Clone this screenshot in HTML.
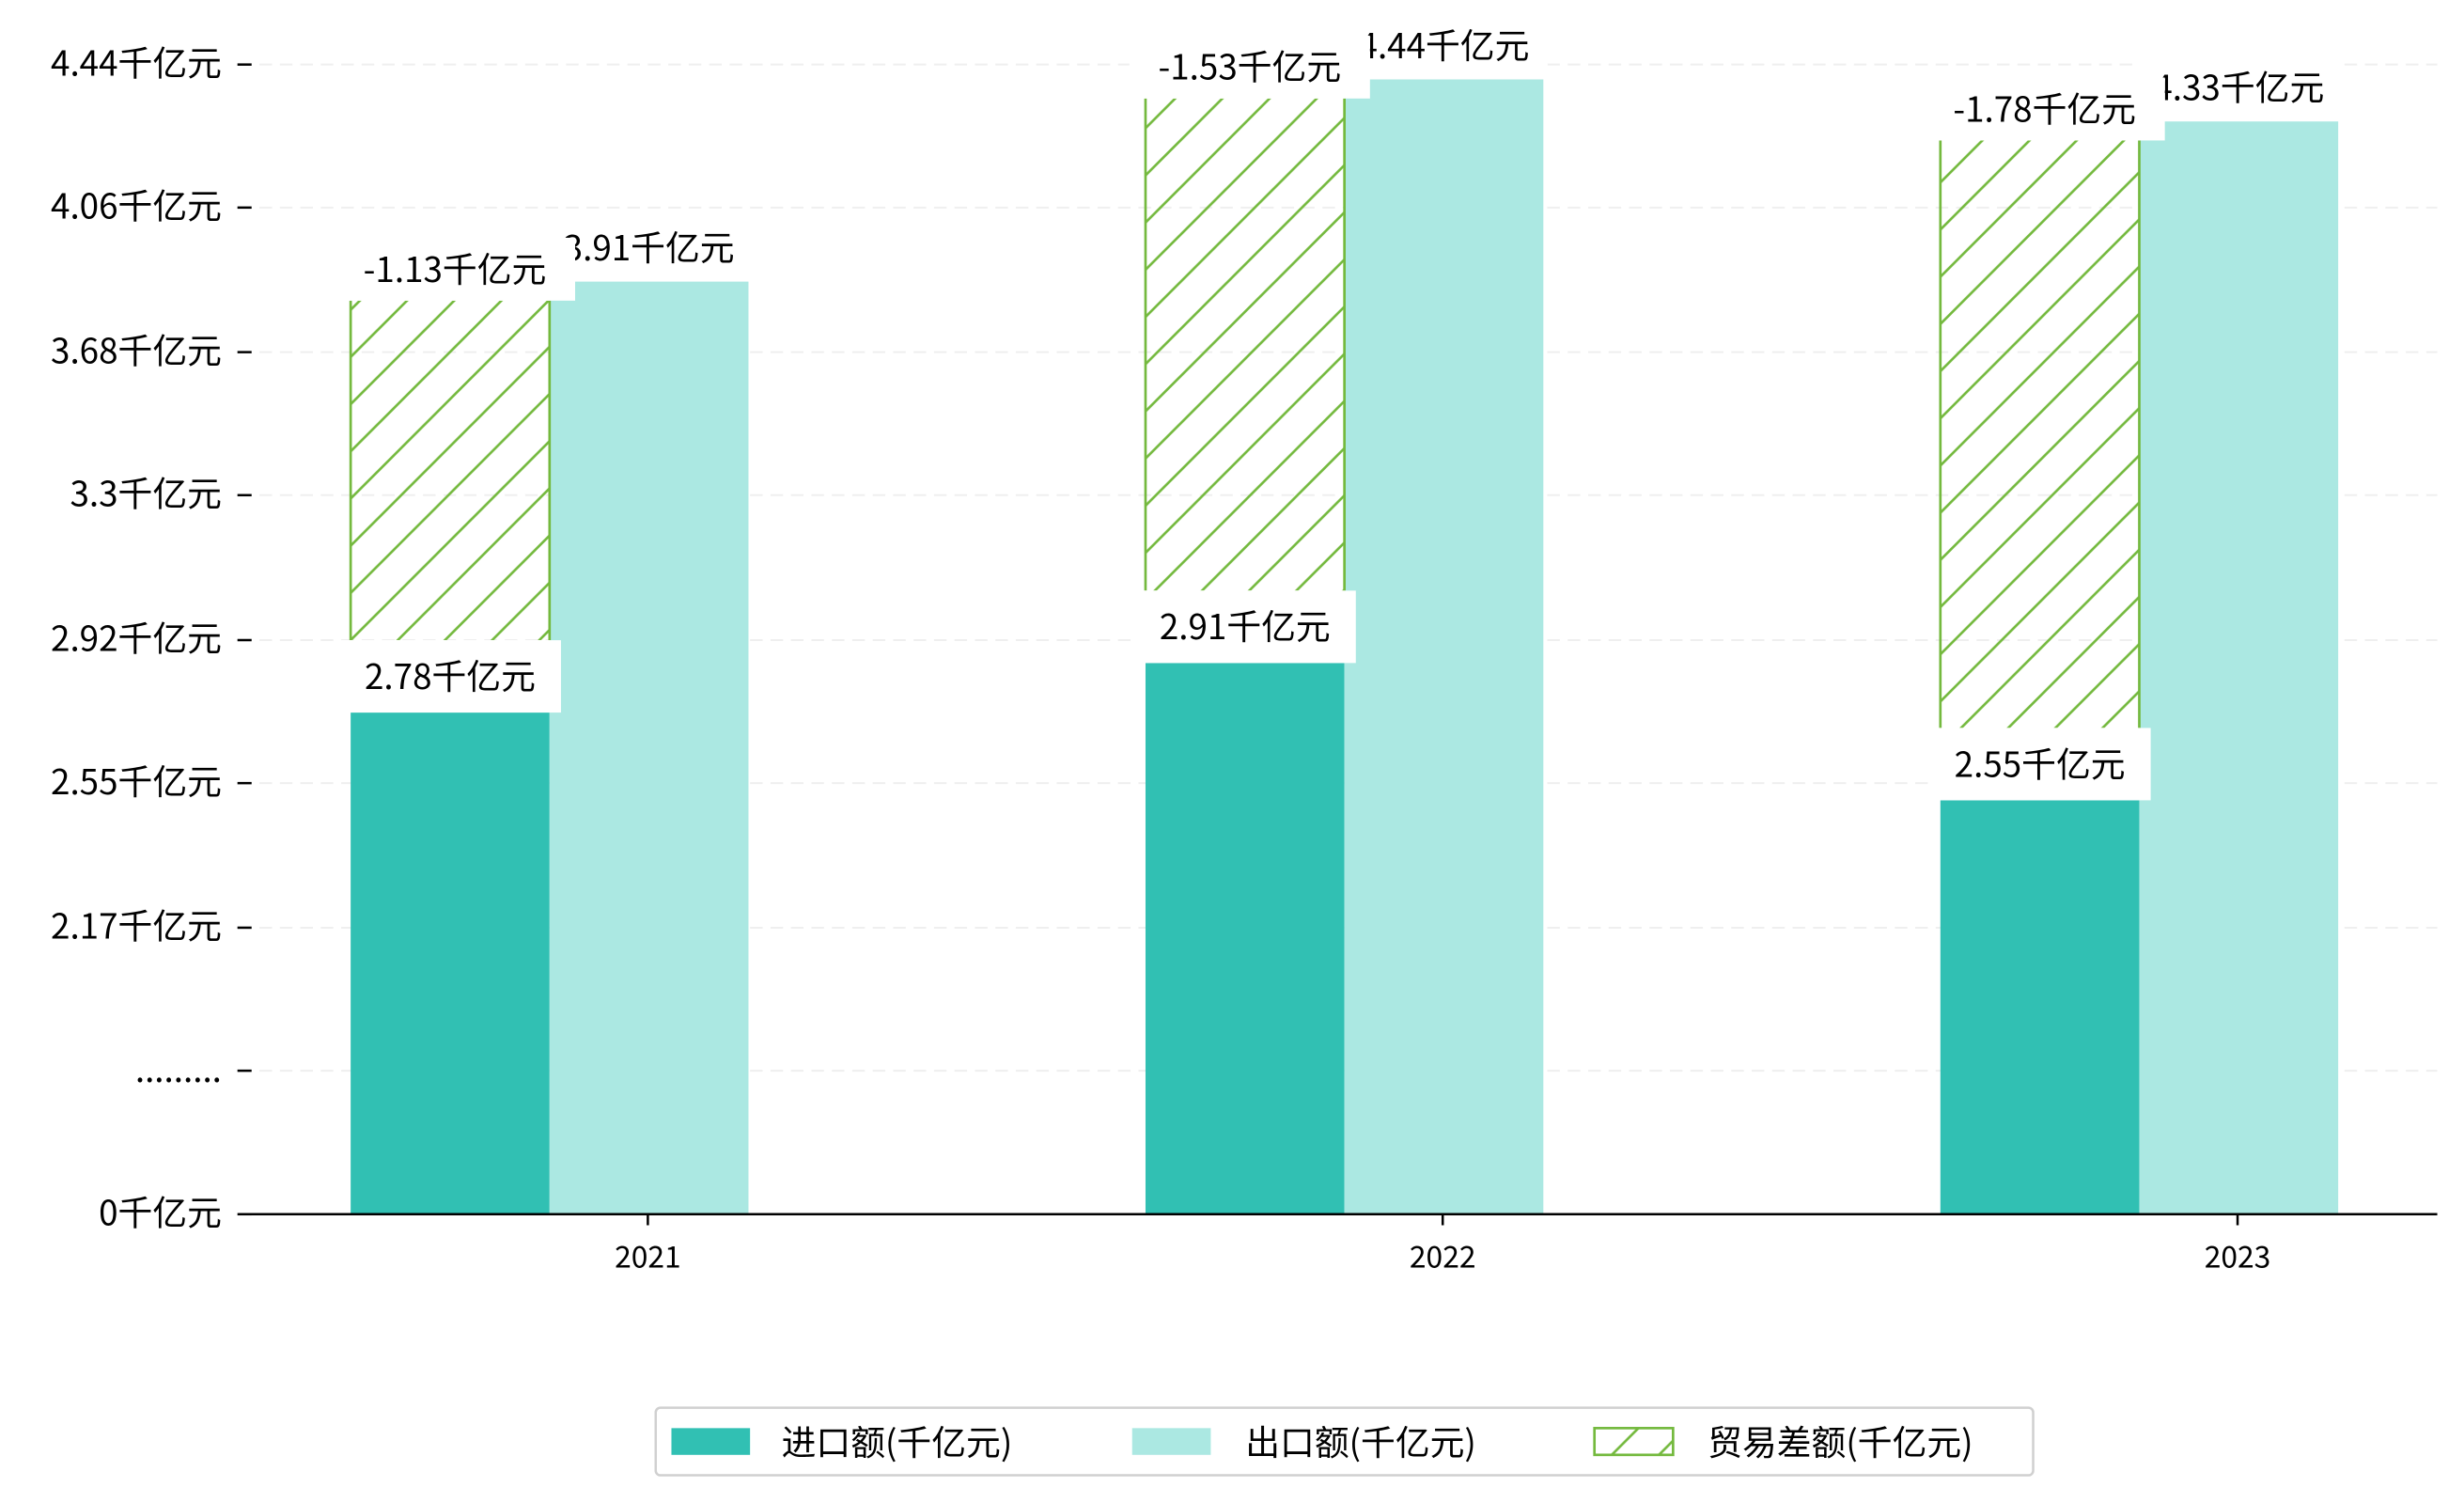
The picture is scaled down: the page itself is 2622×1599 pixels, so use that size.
<!DOCTYPE html>
<html><head><meta charset="utf-8"><style>
html,body{margin:0;padding:0;background:#fff;}
svg{display:block;}
text{font-family:"WenQuanYi Zen Hei","Noto Sans CJK SC",sans-serif;fill:#000;}
</style></head><body>
<svg id="chart" width="2622" height="1599" viewBox="0 0 1567 955.6" preserveAspectRatio="none" xmlns="http://www.w3.org/2000/svg">
<defs>
<pattern id="hatch" patternUnits="userSpaceOnUse" width="30" height="30">
<line x1="-5" y1="35" x2="35" y2="-5" stroke="#74b93e" stroke-width="1.6"/>
<line x1="-20" y1="20" x2="20" y2="-20" stroke="#74b93e" stroke-width="1.6"/>
<line x1="10" y1="50" x2="50" y2="10" stroke="#74b93e" stroke-width="1.6"/>
</pattern>
</defs>
<g id="grid"></g><g id="bars"></g><g id="labels"></g><g id="axes"></g><g id="legend"></g>
</svg>
<script>
const categories = ['2021','2022','2023'];
const importVals = [2.78, 2.91, 2.55];
const exportVals = [3.91, 4.44, 4.33];
const balanceVals = [-1.13, -1.53, -1.78];
const tickVals = [4.479, 4.104, 3.725, 3.350, 2.970, 2.595, 2.216, 1.841, 0];
const tickLabels = ['4.44千亿元','4.06千亿元','3.68千亿元','3.3千亿元','2.92千亿元','2.55千亿元','2.17千亿元','.........','0千亿元'];

const NS='http://www.w3.org/2000/svg';
const X0=152, X1=1550, BASE=772, BREAK=1.841, BREAKY=681;
function y(v){ if(v>=BREAK) return 1127.2-242.5*v; return BASE-(v/BREAK)*(BASE-BREAKY); }
function xc(i){ return 412+i*505.5; }
const BW=126.5;
function mk(tag,attrs,parent){const e=document.createElementNS(NS,tag);for(const k in attrs)e.setAttribute(k,attrs[k]);parent.appendChild(e);return e;}
const grid=document.getElementById('grid'), bars=document.getElementById('bars'), labels=document.getElementById('labels'), axes=document.getElementById('axes'), legend=document.getElementById('legend');

tickVals.forEach((v,i)=>{
  const yy=y(v);
  if(v>0){const g=mk('line',{x1:X0,x2:X1,y1:yy,y2:yy,stroke:'#efefef','stroke-width':1.2,'stroke-dasharray':'8,5'},grid);
  
  }
  const t=mk('line',{x1:151,x2:160,y1:yy,y2:yy,stroke:'#000','stroke-width':1.5},axes);
  
  
  const l=mk('text',{x:141,y:yy+7,'text-anchor':'end','font-size':22},axes);
  l.textContent=tickLabels[i];
  
  
});
const ax=mk('line',{x1:X0,x2:X1,y1:BASE,y2:BASE,stroke:'#000','stroke-width':1.5},axes);



function labelBox(cx,ybot,txt,h,w,name){
  const g=mk('g',{},labels);
  
  
  mk('rect',{x:cx-w/2,y:ybot-h,width:w,height:h,fill:'#fff'},g);
  const t=mk('text',{x:cx,y:ybot-h/2+8,'text-anchor':'middle','font-size':22},g);
  t.textContent=txt;
}

categories.forEach((c,i)=>{
  const cx=xc(i), xl=cx-189, xm=xl+BW;
  const ib=mk('rect',{x:xl,y:y(importVals[i]),width:BW,height:BASE-y(importVals[i]),fill:'#31c0b3'},bars);
  
  
  const eb=mk('rect',{x:xm,y:y(exportVals[i]),width:BW,height:BASE-y(exportVals[i]),fill:'#abe8e2'},bars);
  
  
  const hTop=y(importVals[i]-balanceVals[i]-0.05), hBot=y(importVals[i]+0.19);
  const hg=mk('g',{},bars);
  
  
  mk('rect',{x:xl,y:hTop,width:BW,height:hBot-hTop,fill:'url(#hatch)'},hg);
  mk('line',{x1:xl,x2:xl,y1:hTop,y2:hBot,stroke:'#74b93e','stroke-width':1.6},hg);
  mk('line',{x1:xm,x2:xm,y1:hTop,y2:hBot,stroke:'#74b93e','stroke-width':1.6},hg);
  const tk=mk('line',{x1:cx,x2:cx,y1:BASE,y2:BASE+7,stroke:'#000','stroke-width':1.5},axes);
  
  
  const xl2=mk('text',{x:cx,y:806,'text-anchor':'middle','font-size':19},axes);
  xl2.textContent=c;
  
  
  labelBox(xm+BW/2,y(exportVals[i]),exportVals[i].toFixed(2)+'千亿元',43,132,'export-value-label');
  labelBox(xl+BW/2,y(importVals[i]),importVals[i].toFixed(2)+'千亿元',46,141,'import-value-label');
  labelBox(xl+BW/2+3,hTop,balanceVals[i].toFixed(2)+'千亿元',40,153,'balance-value-label');
});

const lg=mk('g',{},legend);


mk('rect',{x:417,y:895,width:876,height:43,rx:3,fill:'#fff',stroke:'#d0d0d0','stroke-width':1.5},lg);
const items=[['进口额(千亿元)',427,497,'#31c0b3',null],['出口额(千亿元)',720,792,'#abe8e2',null],['贸易差额(千亿元)',1014,1086,'url(#hatch)','#74b93e']];
items.forEach(it=>{
  const g=mk('g',{},lg);
  
  
  const r=mk('rect',{x:it[1],y:908,width:50,height:17,fill:it[3]},g);
  if(it[4]){r.setAttribute('stroke',it[4]);r.setAttribute('stroke-width',1.6);}
  const t=mk('text',{x:it[2],y:925,'font-size':22},g);
  t.textContent=it[0];
});
</script>
</body></html>
